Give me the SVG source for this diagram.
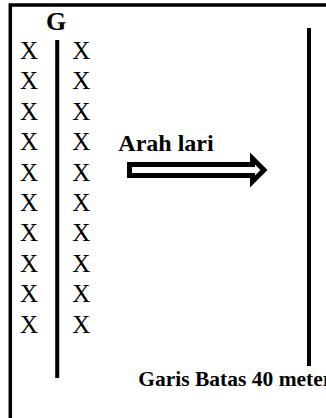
<svg xmlns="http://www.w3.org/2000/svg" width="326" height="418" viewBox="0 0 326 418">
<style>
.x{font-family:"Liberation Serif","Times New Roman",serif;font-size:25px;fill:#000;text-anchor:middle}
.b{font-family:"Liberation Serif","Times New Roman",serif;font-weight:bold;fill:#000}
.ln{stroke:#000;fill:none}
</style>
<rect width="326" height="418" fill="#fff"/>
<g id="border">
<path class="ln" d="M10.3 418 V5 H326" stroke-width="3.5" stroke="#111"/>
</g>
<g id="label-g">
<text class="b" x="56" y="30" font-size="26" text-anchor="middle">G</text>
</g>
<g id="center-line">
<line class="ln" x1="57.2" y1="40" x2="57.2" y2="378" stroke-width="4"/>
</g>
<g id="column-left">
<text class="x" x="29" y="59">X</text>
<text class="x" x="29" y="89.4">X</text>
<text class="x" x="29" y="119.8">X</text>
<text class="x" x="29" y="150.2">X</text>
<text class="x" x="29" y="180.6">X</text>
<text class="x" x="29" y="211">X</text>
<text class="x" x="29" y="241.4">X</text>
<text class="x" x="29" y="271.8">X</text>
<text class="x" x="29" y="302.2">X</text>
<text class="x" x="29" y="332.6">X</text>
</g>
<g id="column-right">
<text class="x" x="81.3" y="59">X</text>
<text class="x" x="81.3" y="89.4">X</text>
<text class="x" x="81.3" y="119.8">X</text>
<text class="x" x="81.3" y="150.2">X</text>
<text class="x" x="81.3" y="180.6">X</text>
<text class="x" x="81.3" y="211">X</text>
<text class="x" x="81.3" y="241.4">X</text>
<text class="x" x="81.3" y="271.8">X</text>
<text class="x" x="81.3" y="302.2">X</text>
<text class="x" x="81.3" y="332.6">X</text>
</g>
<g id="label-arah">
<text class="b" x="118.3" y="151" font-size="24">Arah lari</text>
</g>
<g id="connectors">
<path d="M129.5 164.5 H252.5 V158.5 L264 170 L252.5 181.5 V175.5 H129.5 Z" fill="#fff" stroke="#000" stroke-width="5" stroke-linejoin="miter" stroke-miterlimit="10"/>
</g>
<g id="finish-line">
<line class="ln" x1="309" y1="28" x2="309" y2="366" stroke-width="4"/>
</g>
<g id="label-garis">
<text class="b" x="138.3" y="386" font-size="21.5">Garis Batas 40 meter</text>
</g>
</svg>
